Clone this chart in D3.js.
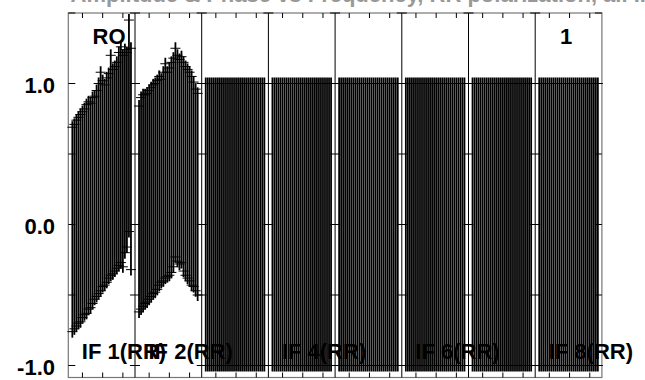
<!DOCTYPE html>
<html><head><meta charset="utf-8">
<script src="https://cdn.jsdelivr.net/npm/d3@7/dist/d3.min.js"></script>
<style>html,body{margin:0;padding:0;background:#fff;} svg{display:block;}</style>
</head><body>
<svg id="chart" width="645" height="380"></svg>
<script>
// ---- data ----
const panels = ["IF 1(RR)", "IF 2(RR)", "IF 3(RR)", "IF 4(RR)", "IF 5(RR)", "IF 6(RR)", "IF 7(RR)", "IF 8(RR)"];
const shownLabels = ["IF 1(RR)", "IF 2(RR)", "IF 4(RR)", "IF 6(RR)", "IF 8(RR)"];
const channels = [1,2,3,4,5,6,7,8,9,10,11,12,13,14,15,16,17,18,19,20,21,22,23,24,25,26,27,28,29,30];
const if1Values = [-0.035,-0.015,0.01,0.03,0.045,0.07,0.09,0.11,0.135,0.135,0.17,0.19,0.22,0.255,0.305,0.29,0.28,0.315,0.345,0.42,0.375,0.395,0.42,0.465,0.495,0.45,0.52,0.53,0.70,0.465];
const if1Errors = [0.725,0.725,0.73,0.73,0.735,0.73,0.73,0.74,0.735,0.725,0.73,0.72,0.73,0.745,0.775,0.73,0.71,0.725,0.725,0.78,0.725,0.725,0.73,0.755,0.765,0.75,0.72,0.69,0.75,0.785];
const if2Values = [0.11,0.15,0.17,0.18,0.19,0.21,0.23,0.25,0.26,0.28,0.31,0.31,0.34,0.38,0.355,0.375,0.405,0.44,0.51,0.47,0.445,0.46,0.41,0.38,0.36,0.34,0.31,0.285,0.245,0.215];
const if2Errors = [0.73,0.75,0.75,0.74,0.74,0.74,0.74,0.74,0.74,0.74,0.74,0.72,0.74,0.76,0.725,0.735,0.745,0.74,0.74,0.73,0.725,0.73,0.74,0.74,0.74,0.74,0.74,0.725,0.715,0.715];
const flatValues = [0,0,0,0,0,0,0,0,0,0,0,0,0,0,0,0,0,0,0,0,0,0,0,0,0,0,0,0,0,0];
const flatErrors = [1,1,1,1,1,1,1,1,1,1,1,1,1,1,1,1,1,1,1,1,1,1,1,1,1,1,1,1,1,1];
const yTicks = [-1.0, -0.5, 0.0, 0.5, 1.0, 1.5];
const yTickLabels = [-1.0, 0.0, 1.0];
const channelTicks = [6, 16, 26];
const cornerLeft = "RO";
const cornerRight = "1";
const titleText = "Amplitude & Phase vs Frequency, RR polarization, all IFs";

const seriesFor = i => i === 0 ? [if1Values, if1Errors] : i === 1 ? [if2Values, if2Errors] : [flatValues, flatErrors];

// ---- scales ----
const svg = d3.select("#chart");
const FONT = "'Liberation Sans', Arial, Helvetica, sans-serif";
const px = d3.scaleBand().domain(panels).range([68.3, 601.9]).padding(0);
const xc = d3.scaleLinear().domain([-1, 32]).range([0, px.bandwidth()]);
const y = d3.scaleLinear().domain([-1, 1]).range([365.5, 83.5]);
const fTop = y(1.5), fBottom = 377.5;
const fLeft = px.range()[0], fRight = px.range()[1];

// clipped title (only its lowest part shows at the top edge)
svg.append("text").attr("x", 368).attr("y", 1.5).attr("text-anchor", "middle")
  .attr("font-family", FONT).attr("font-weight", "bold").attr("font-size", 22)
  .attr("fill", "#999").text(titleText);

// frame
svg.append("rect").attr("x", fLeft).attr("y", fTop).attr("width", fRight - fLeft).attr("height", fBottom - fTop)
  .attr("fill", "none").attr("stroke", "#777").attr("stroke-width", 1.2);

// panel dividers
const bounds = panels.map(p => px(p)).concat([fRight]);
svg.append("g").selectAll("line").data(bounds.slice(1, -1)).join("line")
  .attr("x1", d => d).attr("x2", d => d).attr("y1", fTop).attr("y2", fBottom)
  .attr("stroke", "#000").attr("stroke-width", 1);

// y ticks at every boundary
const yt = svg.append("g");
bounds.forEach((b, bi) => {
  yTicks.forEach(t => {
    let x1 = b - 5, x2 = b + 5;
    if (bi === 0) { x1 = b; x2 = b + 7; }
    if (bi === bounds.length - 1) { x1 = b - 7; x2 = b; }
    yt.append("line").attr("x1", x1).attr("x2", x2)
      .attr("y1", y(t)).attr("y2", y(t)).attr("stroke", "#000").attr("stroke-width", 1);
  });
});

// x ticks (top and bottom) per panel
const xt = svg.append("g");
panels.forEach(p => {
  channelTicks.forEach(c => {
    const xx = px(p) + xc(c);
    xt.append("line").attr("x1", xx).attr("x2", xx).attr("y1", fTop).attr("y2", fTop + 5).attr("stroke", "#000");
    xt.append("line").attr("x1", xx).attr("x2", xx).attr("y1", fBottom).attr("y2", fBottom - 5).attr("stroke", "#000");
  });
});

// error bars
panels.forEach((p, i) => {
  const [vals, errs] = seriesFor(i);
  const g = svg.append("g");
  const pts = channels.map((c, j) => ({x: px(p) + xc(c), v: vals[j], e: errs[j]}));
  g.selectAll("line.bar").data(pts).join("line").attr("class", "bar")
    .attr("x1", d => d.x).attr("x2", d => d.x)
    .attr("y1", d => y(d.v + d.e) - 6).attr("y2", d => y(d.v - d.e) + 6)
    .attr("stroke", "#000").attr("stroke-width", 1.8);
  ["hi", "lo"].forEach(k => {
    g.selectAll("line.cap" + k).data(pts).join("line").attr("class", "cap" + k)
      .attr("x1", d => d.x - 5).attr("x2", d => d.x + 5)
      .attr("y1", d => y(k === "hi" ? d.v + d.e : d.v - d.e))
      .attr("y2", d => y(k === "hi" ? d.v + d.e : d.v - d.e))
      .attr("stroke", "#000").attr("stroke-width", 1);
  });
});

// y tick labels
svg.append("g").selectAll("text").data(yTickLabels).join("text")
  .attr("x", 55).attr("y", d => y(d) + 9.5).attr("text-anchor", "end")
  .attr("font-family", FONT).attr("font-weight", "bold").attr("font-size", 22)
  .text(d => d.toFixed(1));

// panel labels
svg.append("g").selectAll("text").data(shownLabels).join("text")
  .attr("x", d => px(d) + 13.5).attr("y", 358.5)
  .attr("font-family", FONT).attr("font-weight", "bold").attr("font-size", 22)
  .text(d => d);

// corner labels
svg.append("text").attr("x", 92.5).attr("y", 43.5).attr("font-family", FONT).attr("font-weight", "bold").attr("font-size", 22).text(cornerLeft);
svg.append("text").attr("x", 560).attr("y", 43.5).attr("font-family", FONT).attr("font-weight", "bold").attr("font-size", 22).text(cornerRight);
</script>
</body></html>
